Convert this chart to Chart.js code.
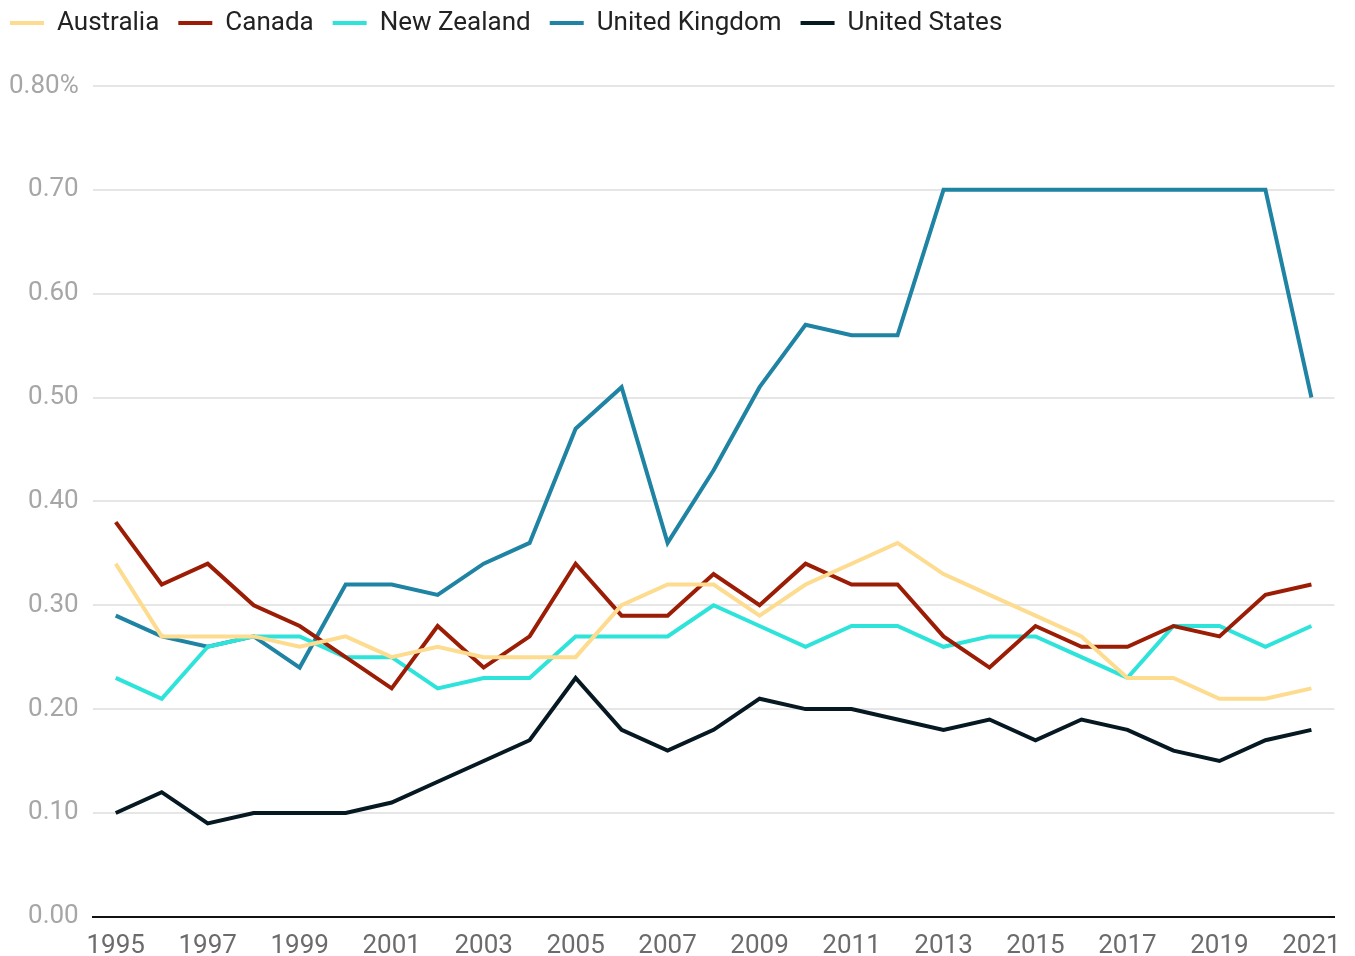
<!DOCTYPE html>
<html>
<head>
<meta charset="utf-8">
<script src="https://cdn.jsdelivr.net/npm/chart.js@4"></script>
<style>
html,body{margin:0;padding:0;background:#fff;}
#wrap{width:1355px;height:956px;}
</style>
</head>
<body>
<div id="wrap"><canvas id="c" width="1355" height="956"></canvas></div>
<script>
const years = ['1995','1996','1997','1998','1999','2000','2001','2002','2003','2004','2005','2006','2007','2008','2009','2010','2011','2012','2013','2014','2015','2016','2017','2018','2019','2020','2021'];
const australia = [0.34,0.27,0.27,0.27,0.26,0.27,0.25,0.26,0.25,0.25,0.25,0.30,0.32,0.32,0.29,0.32,0.34,0.36,0.33,0.31,0.29,0.27,0.23,0.23,0.21,0.21,0.22];
const canada = [0.38,0.32,0.34,0.30,0.28,0.25,0.22,0.28,0.24,0.27,0.34,0.29,0.29,0.33,0.30,0.34,0.32,0.32,0.27,0.24,0.28,0.26,0.26,0.28,0.27,0.31,0.32];
const newZealand = [0.23,0.21,0.26,0.27,0.27,0.25,0.25,0.22,0.23,0.23,0.27,0.27,0.27,0.30,0.28,0.26,0.28,0.28,0.26,0.27,0.27,0.25,0.23,0.28,0.28,0.26,0.28];
const unitedKingdom = [0.29,0.27,0.26,0.27,0.24,0.32,0.32,0.31,0.34,0.36,0.47,0.51,0.36,0.43,0.51,0.57,0.56,0.56,0.70,0.70,0.70,0.70,0.70,0.70,0.70,0.70,0.50];
const unitedStates = [0.10,0.12,0.09,0.10,0.10,0.10,0.11,0.13,0.15,0.17,0.23,0.18,0.16,0.18,0.21,0.20,0.20,0.19,0.18,0.19,0.17,0.19,0.18,0.16,0.15,0.17,0.18];
const yTicks = [0,0.1,0.2,0.3,0.4,0.5,0.6,0.7,0.8];

function ds(label, data, color){
  return {label, data, borderColor: color, backgroundColor: color, borderWidth: 4,
    pointRadius: 0, pointHoverRadius: 0, tension: 0, fill: false, borderJoinStyle: 'miter'};
}

const shiftLegend = {
  id: 'shiftLegend',
  afterLayout(chart){
    if (chart.legend) { chart.legend.left -= 4; chart.legend.top -= 40; }
  }
};

new Chart(document.getElementById('c'), {
  type: 'line',
  data: {
    labels: years,
    datasets: [
      ds('Australia', australia, '#fddb8f'),
      ds('Canada', canada, '#9b1d06'),
      ds('New Zealand', newZealand, '#2ee3da'),
      ds('United Kingdom', unitedKingdom, '#1f83a4'),
      ds('United States', unitedStates, '#061922')
    ]
  },
  plugins: [shiftLegend],
  options: {
    responsive: false,
    animation: false,
    devicePixelRatio: 1,
    layout: {padding: {left: -5, right: 19, top: 31, bottom: -20}},
    plugins: {
      tooltip: {enabled: false},
      legend: {
        position: 'top',
        align: 'start',
        labels: {
          font: {family: 'Roboto', size: 26},
          color: '#222',
          boxWidth: 34,
          boxHeight: 4,
          padding: 19,
          generateLabels(chart){
            return chart.data.datasets.map((d,i)=>({
              text: d.label, fillStyle: d.borderColor, strokeStyle: d.borderColor,
              lineWidth: 0, hidden: false, datasetIndex: i, fontColor: '#222'
            }));
          }
        }
      }
    },
    scales: {
      x: {
        offset: true,
        grid: {display: false, drawTicks: false},
        border: {display: true, color: '#111', width: 2},
        ticks: {
          autoSkip: false, maxRotation: 0, padding: 14,
          color: '#6b6b6b', font: {family: 'Roboto', size: 26},
          callback(v, i){ return i % 2 === 0 ? years[i] : ''; }
        }
      },
      y: {
        min: 0, max: 0.8,
        afterBuildTicks(axis){ axis.ticks = yTicks.map(v=>({value:v})); },
        grid: {color: '#e6e6e6', lineWidth: 2, drawTicks: false},
        border: {display: false},
        ticks: {
          padding: 14, color: '#a6a6a6', font: {family: 'Roboto', size: 26},
          callback(v){ return Math.abs(v-0.8)<1e-9 ? '0.80%' : Number(v).toFixed(2); }
        }
      }
    }
  }
});
</script>
</body>
</html>
